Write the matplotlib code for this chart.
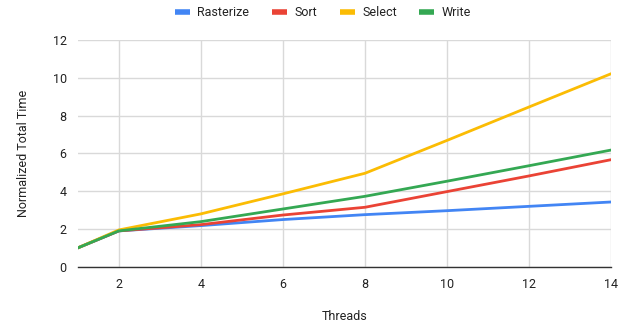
import matplotlib
matplotlib.use("Agg")
import matplotlib.pyplot as plt

threads = [1, 2, 4, 6, 8, 10, 12, 14]
rasterize = [1.0, 1.9, 2.18, 2.5, 2.76, 2.97, 3.2, 3.43]
sort = [1.0, 1.9, 2.23, 2.74, 3.15, 3.98, 4.81, 5.67]
select = [1.0, 1.95, 2.8, 3.86, 4.95, 6.69, 8.46, 10.22]
write = [1.0, 1.9, 2.39, 3.06, 3.73, 4.53, 5.35, 6.18]

series = [
    ("Rasterize", rasterize, "#4285F4"),
    ("Sort", sort, "#EA4335"),
    ("Select", select, "#FBBC04"),
    ("Write", write, "#34A853"),
]

plt.rcParams["font.family"] = ["Roboto", "DejaVu Sans"]

fig = plt.figure(figsize=(6.35, 3.23), dpi=100)
ax = fig.add_axes([0.1225, 0.174, 0.84, 0.702])

for name, vals, color in series:
    ax.plot(threads, vals, color=color, linewidth=2, label=name,
            solid_joinstyle="round", solid_capstyle="round")

ax.set_xlim(1, 14)
ax.set_ylim(0, 12)
ax.set_xticks(range(2, 15, 2))
ax.set_yticks(range(0, 13, 2))
ax.grid(True, color="#d9d9d9", linewidth=1)
ax.set_axisbelow(True)
for side in ["top", "right", "left"]:
    ax.spines[side].set_visible(False)
ax.spines["bottom"].set_color("#333333")
ax.spines["bottom"].set_linewidth(1)
ax.tick_params(length=0, labelsize=9, colors="#222222", pad=8)

ax.set_xlabel("Threads", fontsize=9, color="#222222", labelpad=14)
ax.set_ylabel("Normalized Total Time", fontsize=9, color="#222222", labelpad=16)

ax.legend(loc="upper center", bbox_to_anchor=(0.46, 1.2), ncol=4, frameon=False,
          fontsize=9, handlelength=1.2, handleheight=0.5, columnspacing=1.8,
          handletextpad=0.6, labelcolor="#222222")
leg = ax.get_legend()
for h in leg.get_lines():
    h.set_linewidth(4)
    h.set_solid_capstyle("butt")

fig.savefig("out.png", dpi=100)
